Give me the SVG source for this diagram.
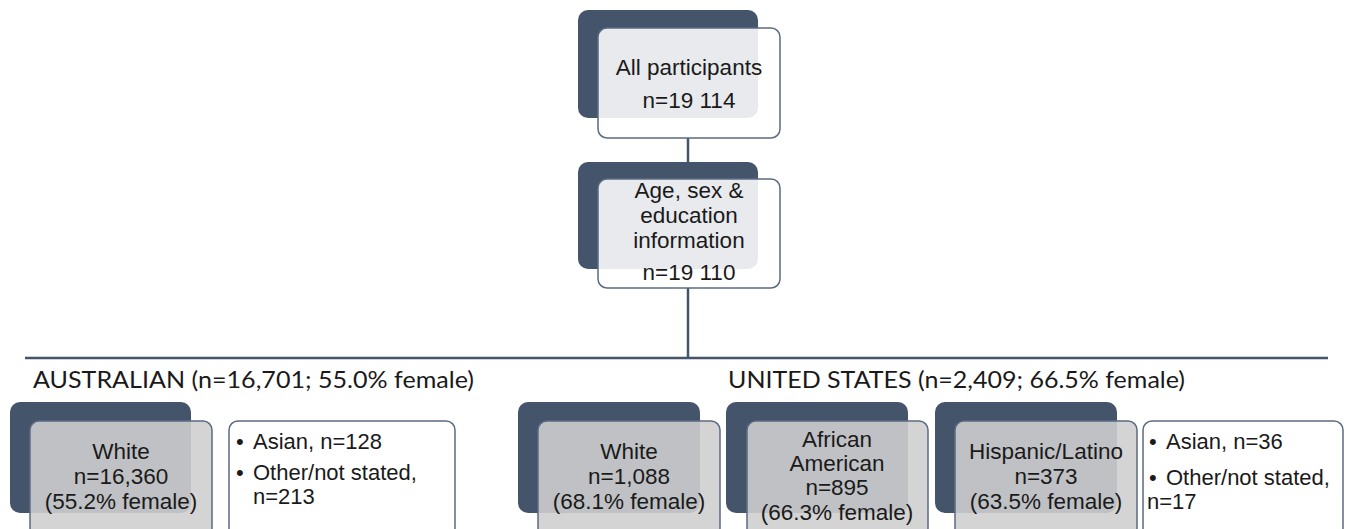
<svg xmlns="http://www.w3.org/2000/svg" width="1350" height="529" viewBox="0 0 1350 529">
<style>
.back{fill:#44546a}
.frontw{fill:#ffffff;fill-opacity:0.88;stroke:#5b6b82;stroke-width:1.5}
.frontg{fill:#cfcfcf;fill-opacity:0.89;stroke:#5b6b82;stroke-width:1.5}
.list{fill:#ffffff;stroke:#5b6b82;stroke-width:1.5}
.t{font-family:"Liberation Sans",Arial,sans-serif;font-size:22.5px;fill:#1a1a1a;text-anchor:middle}
.tl{font-family:"Liberation Sans",Arial,sans-serif;font-size:22px;fill:#1a1a1a}
.h{font-family:"Lato","Noto Sans",sans-serif;font-size:23px;fill:#1a1a1a}
.conn{stroke:#44546a;stroke-width:2.5;fill:none}
</style>
<rect width="1350" height="529" fill="#ffffff"/>
<g id="connectors">
<line class="conn" x1="688" y1="138" x2="688" y2="162"/>
<line class="conn" x1="688" y1="288" x2="688" y2="358"/>
<line class="conn" x1="25" y1="358" x2="1328" y2="358"/>
</g>
<g id="node-all">
<rect class="back" x="578" y="10" width="180" height="108" rx="10"/>
<rect class="frontw" x="598" y="28" width="182" height="110" rx="9"/>
<text class="t" x="689" y="75">All participants</text>
<text class="t" x="689" y="108">n=19 114</text>
</g>
<g id="node-age">
<rect class="back" x="578" y="162" width="180" height="107" rx="10"/>
<rect class="frontw" x="598" y="179" width="182" height="109" rx="9"/>
<text class="t" x="689" y="198">Age, sex &amp;</text>
<text class="t" x="689" y="223">education</text>
<text class="t" x="689" y="248">information</text>
<text class="t" x="689" y="280">n=19 110</text>
</g>
<g id="heading-aus">
<text class="h" x="33" y="388" textLength="441" lengthAdjust="spacingAndGlyphs">AUSTRALIAN (n=16,701; 55.0% female)</text>
</g>
<g id="heading-us">
<text class="h" x="728" y="388" textLength="457" lengthAdjust="spacingAndGlyphs">UNITED STATES (n=2,409; 66.5% female)</text>
</g>
<g id="node-aus-white">
<rect class="back" x="10" y="402" width="181" height="111" rx="10"/>
<rect class="frontg" x="30" y="421" width="182" height="116" rx="9"/>
<text class="t" x="121" y="459">White</text>
<text class="t" x="121" y="484">n=16,360</text>
<text class="t" x="121" y="509">(55.2% female)</text>
</g>
<g id="node-aus-other">
<rect class="list" x="229" y="421" width="226" height="116" rx="9"/>
<text class="tl" x="236" y="449">•</text>
<text class="tl" x="253" y="449">Asian, n=128</text>
<text class="tl" x="236" y="480">•</text>
<text class="tl" x="253" y="480">Other/not stated,</text>
<text class="tl" x="253" y="504">n=213</text>
</g>
<g id="node-us-white">
<rect class="back" x="518" y="402" width="182" height="111" rx="10"/>
<rect class="frontg" x="538" y="421" width="182" height="116" rx="9"/>
<text class="t" x="629" y="459">White</text>
<text class="t" x="629" y="484">n=1,088</text>
<text class="t" x="629" y="509">(68.1% female)</text>
</g>
<g id="node-us-african">
<rect class="back" x="726" y="402" width="182" height="111" rx="10"/>
<rect class="frontg" x="747" y="421" width="181" height="116" rx="9"/>
<text class="t" x="837" y="447">African</text>
<text class="t" x="837" y="471">American</text>
<text class="t" x="837" y="495">n=895</text>
<text class="t" x="837" y="520">(66.3% female)</text>
</g>
<g id="node-us-hispanic">
<rect class="back" x="935" y="402" width="182" height="111" rx="10"/>
<rect class="frontg" x="955" y="421" width="182" height="116" rx="9"/>
<text class="t" x="1046" y="459">Hispanic/Latino</text>
<text class="t" x="1046" y="484">n=373</text>
<text class="t" x="1046" y="509">(63.5% female)</text>
</g>
<g id="node-us-other">
<rect class="list" x="1143" y="421" width="200" height="116" rx="9"/>
<text class="tl" x="1149" y="449">•</text>
<text class="tl" x="1166" y="449">Asian, n=36</text>
<text class="tl" x="1149" y="485">•</text>
<text class="tl" x="1166" y="485">Other/not stated,</text>
<text class="tl" x="1147" y="509">n=17</text>
</g>
</svg>
